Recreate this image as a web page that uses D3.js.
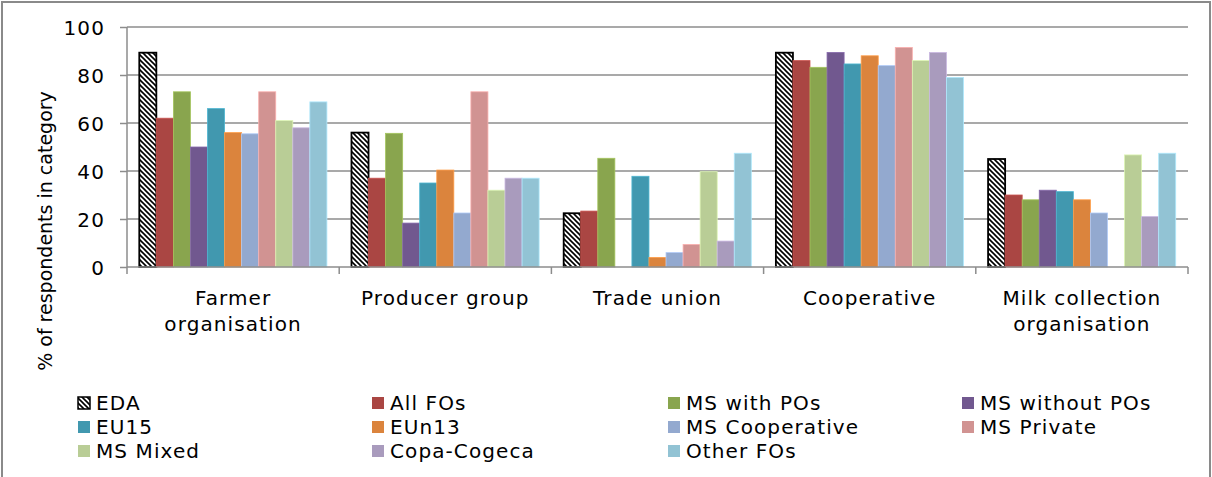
<!DOCTYPE html>
<html>
<head>
<meta charset="utf-8">
<script src="https://cdn.jsdelivr.net/npm/d3@7"></script>
<style>
  body { margin: 0; background: #fff; }
  svg text { font-family: "DejaVu Sans", Verdana, sans-serif; fill: #000; }
</style>
</head>
<body>
<div id="chart"></div>
<script>
// data
const categories = [
  ['Farmer', 'organisation'],
  ['Producer group'],
  ['Trade union'],
  ['Cooperative'],
  ['Milk collection', 'organisation']
];
const seriesNames = ['EDA', 'All FOs', 'MS with POs', 'MS without POs', 'EU15', 'EUn13',
  'MS Cooperative', 'MS Private', 'MS Mixed', 'Copa-Cogeca', 'Other FOs'];
const eda           = [89.3, 56, 22.4, 89.3, 45];
const allFOs        = [62, 37, 23.3, 86, 30];
const msWithPOs     = [73, 55.7, 45.3, 83.2, 28];
const msWithoutPOs  = [50, 18.3, 0, 89.4, 32];
const eu15          = [66, 35, 37.8, 84.6, 31.4];
const eun13         = [56, 40.4, 4, 88, 28];
const msCooperative = [55.5, 22.5, 6, 83.9, 22.5];
const msPrivate     = [73, 73, 9.4, 91.5, 0];
const msMixed       = [61, 32, 39.7, 86, 46.7];
const copaCogeca    = [58, 37, 10.8, 89.4, 21];
const otherFOs      = [68.8, 37, 47.4, 79, 47.4];
const yTicks = [0, 20, 40, 60, 80, 100];

const seriesValues = [eda, allFOs, msWithPOs, msWithoutPOs, eu15, eun13,
  msCooperative, msPrivate, msMixed, copaCogeca, otherFOs];
const colors = ['url(#hatch)', '#AA4643', '#89A54E', '#71588F', '#4198AF', '#DB843D',
  '#93A9CF', '#D19392', '#B9CD96', '#A99BBD', '#92C3D4'];

// const
const width = 1212;
const height = 477;
const margin = { top: 27, right: 24, bottom: 210, left: 127 };
const spacing = '1.1px';

// svg
const svg = d3.select('#chart')
  .append('svg')
  .attr('width', width)
  .attr('height', height);

const defs = svg.append('defs');
const pat = defs.append('pattern')
  .attr('id', 'hatch')
  .attr('patternUnits', 'userSpaceOnUse')
  .attr('width', 5)
  .attr('height', 5);
pat.append('rect').attr('width', 5).attr('height', 5).attr('fill', '#fff');
pat.append('path')
  .attr('d', 'M-1,-1 L6,6 M-1,4 L1,6 M4,-1 L6,1')
  .attr('stroke', '#000')
  .attr('stroke-width', 1.6);

// outer frame
svg.append('rect')
  .attr('x', 2).attr('y', 2)
  .attr('width', 1208).attr('height', 490)
  .attr('fill', 'none')
  .attr('stroke', '#8a8a8a')
  .attr('stroke-width', 2);

// x axis
const x0 = d3.scaleBand()
  .domain(d3.range(categories.length))
  .range([margin.left, width - margin.right]);
const x1 = d3.scaleBand()
  .domain(seriesNames)
  .range([0, x0.bandwidth()])
  .paddingInner(0)
  .paddingOuter(0.72);

// y axis
const y = d3.scaleLinear()
  .domain([0, 100])
  .range([height - margin.bottom, margin.top]);

// gridlines
svg.append('g')
  .selectAll('line')
  .data(yTicks.filter(t => t > 0))
  .join('line')
  .attr('x1', margin.left).attr('x2', width - margin.right)
  .attr('y1', d => y(d)).attr('y2', d => y(d))
  .attr('stroke', '#8c8c8c')
  .attr('stroke-width', 1.5);

const yAxis = svg.append('g')
  .attr('transform', `translate(${margin.left}, 0)`)
  .call(d3.axisLeft(y).tickValues(yTicks).tickSize(7).tickPadding(15).tickFormat(d3.format('d')));
yAxis.selectAll('line, path').attr('stroke', '#8c8c8c').attr('stroke-width', 1.5);
yAxis.select('.domain').attr('d', `M0,${y(100)}V${y(0)}`);
yAxis.selectAll('text')
  .attr('font-size', 20)
  .attr('letter-spacing', spacing)
  .attr('dy', '0.36em');

// bars
const groups = svg.append('g')
  .selectAll('g')
  .data(seriesNames)
  .join('g');
groups.selectAll('rect')
  .data((name, i) => seriesValues[i].map((v, c) => ({ name, i, v, c })))
  .join('rect')
  .filter(d => d.v > 0)
  .attr('x', d => x0(d.c) + x1(d.name))
  .attr('y', d => y(d.v))
  .attr('width', x1.bandwidth())
  .attr('height', d => y(0) - y(d.v))
  .attr('fill', d => colors[d.i])
  .attr('stroke', d => d.i === 0 ? '#000' : d3.color(colors[d.i]).brighter(0.5))
  .attr('stroke-width', d => d.i === 0 ? 1.8 : 0.8);

// x axis line + category ticks
const xAxis = svg.append('g');
xAxis.append('line')
  .attr('x1', margin.left).attr('x2', width - margin.right)
  .attr('y1', y(0)).attr('y2', y(0))
  .attr('stroke', '#8c8c8c').attr('stroke-width', 1.5);
xAxis.selectAll('.tick')
  .data(d3.range(categories.length + 1))
  .join('line')
  .attr('x1', d => margin.left + d * x0.step())
  .attr('x2', d => margin.left + d * x0.step())
  .attr('y1', y(0)).attr('y2', y(0) + 7)
  .attr('stroke', '#8c8c8c').attr('stroke-width', 1.5);
xAxis.selectAll('text')
  .data(categories)
  .join('text')
  .attr('text-anchor', 'middle')
  .attr('font-size', 20)
  .attr('letter-spacing', spacing)
  .attr('x', (d, i) => x0(i) + x0.bandwidth() / 2)
  .attr('y', y(0) + 38)
  .selectAll('tspan')
  .data(d => d)
  .join('tspan')
  .attr('x', function () { return this.parentNode.getAttribute('x'); })
  .attr('dy', (d, i) => i === 0 ? 0 : 26)
  .text(d => d);

// y title
svg.append('text')
  .attr('transform', `translate(52, 231) rotate(-90)`)
  .attr('text-anchor', 'middle')
  .attr('font-size', 19)
  .text('% of respondents in category');

// legend
const legendX = [78, 372, 668, 962];
const legendY = [403, 427, 451];
const legend = svg.append('g')
  .selectAll('g')
  .data(seriesNames)
  .join('g')
  .attr('transform', (d, i) => `translate(${legendX[i % 4]}, ${legendY[Math.floor(i / 4)]})`);
legend.append('rect')
  .attr('x', 0).attr('y', -6)
  .attr('width', 12).attr('height', 12)
  .attr('fill', (d, i) => colors[i])
  .attr('stroke', (d, i) => i === 0 ? '#000' : 'none')
  .attr('stroke-width', 1.5);
legend.append('text')
  .attr('x', 18)
  .attr('dy', '0.36em')
  .attr('font-size', 20)
  .attr('letter-spacing', spacing)
  .text(d => d);
</script>
</body>
</html>
